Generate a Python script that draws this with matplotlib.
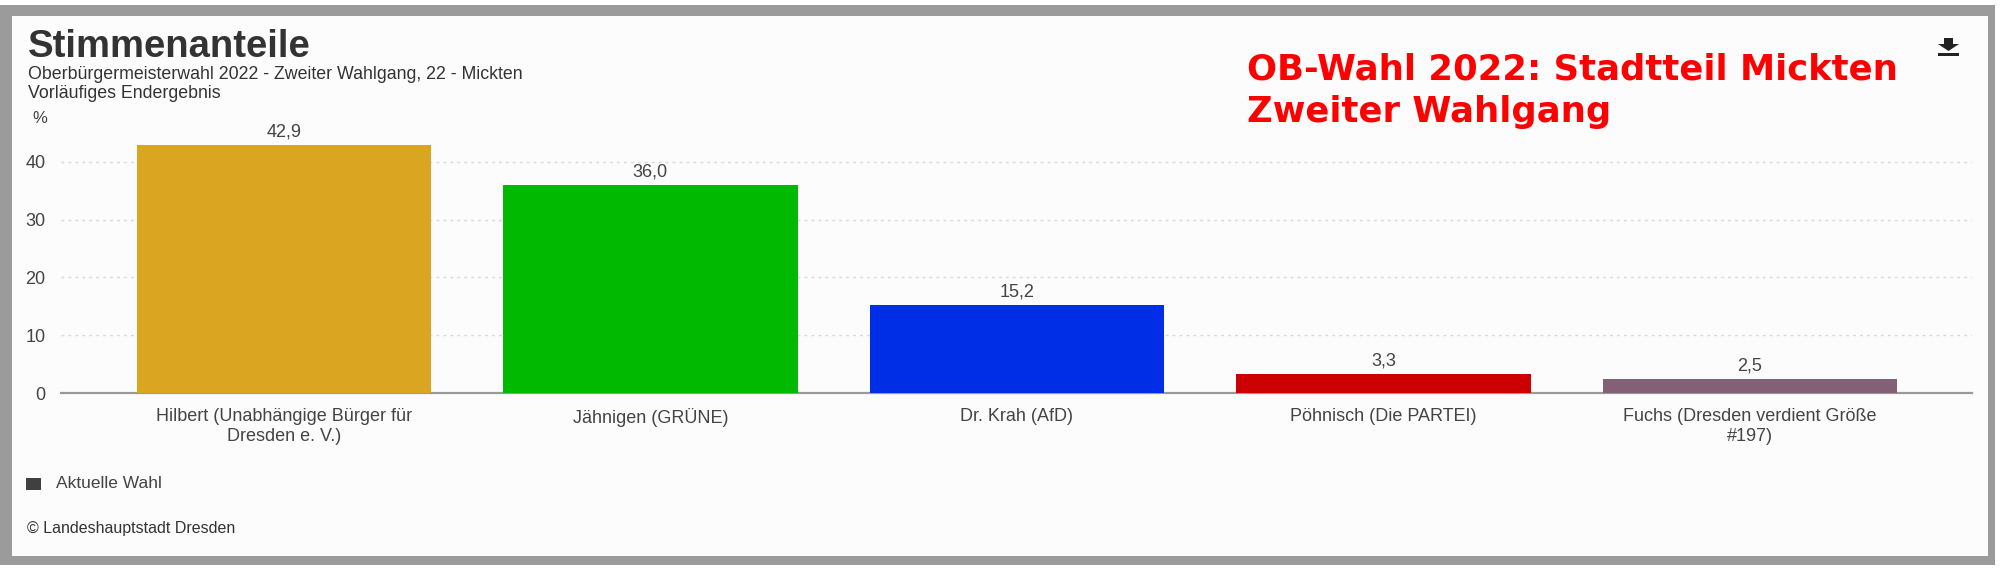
import matplotlib
matplotlib.use("Agg")
import matplotlib.pyplot as plt
from matplotlib.patches import Rectangle, Polygon

# Daten
kandidaten = [
    "Hilbert (Unabhängige Bürger für\nDresden e. V.)",
    "Jähnigen (GRÜNE)",
    "Dr. Krah (AfD)",
    "Pöhnisch (Die PARTEI)",
    "Fuchs (Dresden verdient Größe\n#197)",
]
anteile = [42.9, 36.0, 15.2, 3.3, 2.5]
farben = ["#daa520", "#00b900", "#002ee6", "#cc0000", "#836076"]
y_ticks = [0, 10, 20, 30, 40]

W, H = 2000, 568
plt.rcParams['font.family'] = ['Liberation Sans', 'DejaVu Sans']

fig = plt.figure(figsize=(W / 100, H / 100), dpi=100)
fig.patch.set_facecolor("white")


def fx(x):
    return x / W


def fy(y):
    return 1 - y / H


# Rahmen
fig.patches.append(Rectangle((fx(0), fy(565)), fx(1995), 560 / H, transform=fig.transFigure,
                             facecolor="#9b9b9b", edgecolor="none", zorder=-3))
fig.patches.append(Rectangle((fx(12), fy(556)), fx(1976), 540 / H, transform=fig.transFigure,
                             facecolor="#fcfcfc", edgecolor="none", zorder=-2))

# Achse
ax_l, ax_r, ax_b = 61, 1972, 393
ymax = 46
px_per_unit = 5.78
ax_t = ax_b - ymax * px_per_unit
ax = fig.add_axes([fx(ax_l), fy(ax_b), (ax_r - ax_l) / W, (ax_b - ax_t) / H])
ax.set_facecolor("none")

xs = list(range(len(kandidaten)))
ax.bar(xs, anteile, width=0.803, color=farben, zorder=3)
ax.set_xlim(-0.608, 4.606)
ax.set_ylim(0, ymax)

for x, v in zip(xs, anteile):
    ax.annotate(f"{v:.1f}".replace(".", ","), (x, v), xytext=(0, 6), textcoords="offset points",
                ha="center", va="baseline", fontsize=13, color="#444444")

ax.set_xticks(xs)
ax.set_xticklabels(kandidaten, fontsize=13, color="#444444", linespacing=1.2)
ax.set_yticks(y_ticks)
ax.set_yticklabels([str(t) for t in y_ticks], fontsize=13, color="#444444")
ax.tick_params(axis="x", length=0, pad=11)
ax.tick_params(axis="y", length=0, pad=11)

for t in y_ticks[1:]:
    ax.axhline(t, color="#d8d8d8", lw=1, ls=(0, (2, 3)), zorder=1)

for s in ["top", "right", "left"]:
    ax.spines[s].set_visible(False)
ax.spines["bottom"].set_color("#999999")
ax.spines["bottom"].set_linewidth(1.6)

# Texte
fig.text(fx(28), fy(57), "Stimmenanteile", fontsize=27.5, fontweight="bold", color="#333333",
         va="baseline")
fig.text(fx(28), fy(79), "Oberbürgermeisterwahl 2022 - Zweiter Wahlgang, 22 - Mickten",
         fontsize=12.8, color="#333333", va="baseline")
fig.text(fx(28), fy(98), "Vorläufiges Endergebnis", fontsize=12.8, color="#333333", va="baseline")
fig.text(fx(32), fy(118), "%", fontsize=12, color="#444444", va="center")

fig.text(fx(1247), fy(80), "OB-Wahl 2022: Stadtteil Mickten",
         fontsize=25.5, fontweight="bold", color="#ff0000", va="baseline", family="DejaVu Sans")
fig.text(fx(1247), fy(122), "Zweiter Wahlgang",
         fontsize=25.5, fontweight="bold", color="#ff0000", va="baseline", family="DejaVu Sans")

# Legende
fig.patches.append(Rectangle((fx(26), fy(490)), 15 / W, 12 / H, transform=fig.transFigure,
                             facecolor="#404040", edgecolor="none"))
fig.text(fx(56), fy(484), "Aktuelle Wahl", fontsize=12.5, color="#444444", va="center")
fig.text(fx(27), fy(529), "© Landeshauptstadt Dresden", fontsize=11.5, color="#333333",
         va="center")

# Download-Symbol
arrow = [(1944, 38), (1953, 38), (1953, 44), (1959, 44), (1948.5, 51), (1938, 44), (1944, 44)]
fig.patches.append(Polygon([(fx(a), fy(b)) for a, b in arrow], closed=True,
                           transform=fig.transFigure, facecolor="#222222", edgecolor="none"))
fig.patches.append(Rectangle((fx(1938), fy(56)), 21 / W, 2.5 / H, transform=fig.transFigure,
                             facecolor="#222222", edgecolor="none"))

fig.savefig("out.png", dpi=100, facecolor=fig.get_facecolor())
